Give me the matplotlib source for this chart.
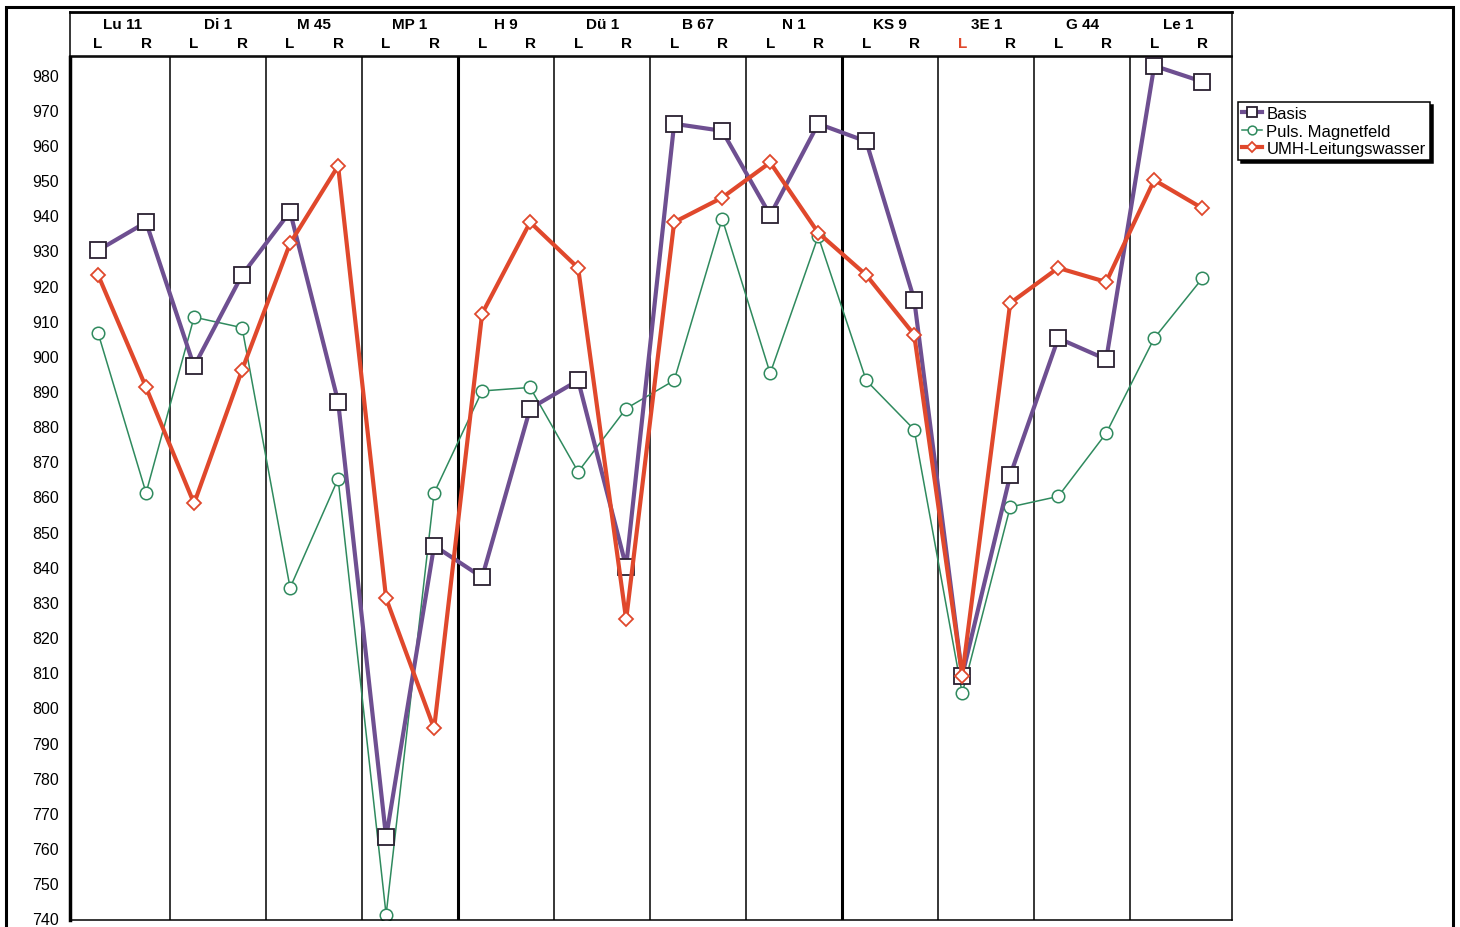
import matplotlib.pyplot as plt
from matplotlib.patches import Rectangle

plt.rcParams['font.family'] = ['Liberation Sans', 'DejaVu Sans']

groups = ['Lu 11', 'Di 1', 'M 45', 'MP 1', 'H 9', 'Dü 1', 'B 67', 'N 1', 'KS 9', '3E 1', 'G 44', 'Le 1']
sides = ['L', 'R']

basis = [930, 938, 897, 923, 941, 887, 763, 846, 837, 885, 893, 840,
         966, 964, 940, 966, 961, 916, 809, 866, 905, 899, 982.5, 978]
puls = [906.5, 861, 911, 908, 834, 865, 741, 861, 890, 891, 867, 885,
        893, 939, 895, 934, 893, 879, 804, 857, 860, 878, 905, 922]
umh = [923, 891, 858, 896, 932, 954, 831, 794, 912, 938, 925, 825,
       938, 945, 955, 935, 923, 906, 809, 915, 925, 921, 950, 942]

x = list(range(len(basis)))

fig = plt.figure(figsize=(14.6, 9.28), dpi=100)
ax = fig.add_axes([0.048, 0.0075, 0.796, 0.93])
hd = fig.add_axes([0.048, 0.9386, 0.796, 0.047])

ax.plot(x, basis, color='#6e4f91', lw=3, marker='s', ms=11, mfc='white',
        mec='#2a2030', mew=1.3, label='Basis', zorder=3)
ax.plot(x, puls, color='#2f8a5e', lw=1.1, marker='o', ms=9, mfc='white',
        mec='#2f8a5e', mew=1.1, label='Puls. Magnetfeld', zorder=2)
ax.plot(x, umh, color='#e0482c', lw=3, marker='D', ms=7.5, mfc='white',
        mec='#e0482c', mew=1.3, label='UMH-Leitungswasser', zorder=4)

xl = (-0.583, 23.625)
ax.set_xlim(*xl)
ax.set_ylim(739.5, 985)
ax.set_yticks(range(740, 981, 10))
ax.tick_params(axis='y', length=0, labelsize=11.5, pad=8)
ax.set_xticks([])
for g in range(len(groups) - 1):
    lw = 2.2 if g in (3, 7) else 1.1
    ax.axvline(2 * g + 1.5, color='black', lw=lw, zorder=1)
ax.spines['left'].set_linewidth(2.5)
for s in ['right', 'top', 'bottom']:
    ax.spines[s].set_linewidth(1.1)

hd.set_xlim(*xl)
hd.set_ylim(0, 1)
hd.set_xticks([])
hd.set_yticks([])
for s in hd.spines.values():
    s.set_linewidth(1.1)
hd.spines['top'].set_linewidth(2)
for g, name in enumerate(groups):
    hd.text(2 * g + 0.5, 0.74, name, ha='center', va='center', fontsize=11, fontweight='bold')
    for k, sd in enumerate(sides):
        col = '#e0482c' if (name == '3E 1' and sd == 'L') else 'black'
        hd.text(2 * g + k, 0.3, sd, ha='center', va='center', fontsize=11,
                fontweight='bold', color=col)

leg = fig.legend(loc='upper left', bbox_to_anchor=(0.848, 0.889), fontsize=12,
                 frameon=True, fancybox=False, edgecolor='black', framealpha=1,
                 handlelength=1.2, handletextpad=0.25, borderpad=0.25,
                 labelspacing=0.15, borderaxespad=0, markerscale=0.7,
                 shadow={'color': 'black', 'alpha': 1})
leg.get_frame().set_linewidth(1.1)

fig.patches.append(Rectangle((0.004, -0.05), 0.991, 1.041, transform=fig.transFigure,
                             fill=False, lw=2.2, edgecolor='black'))

fig.savefig('out.png', dpi=100)
